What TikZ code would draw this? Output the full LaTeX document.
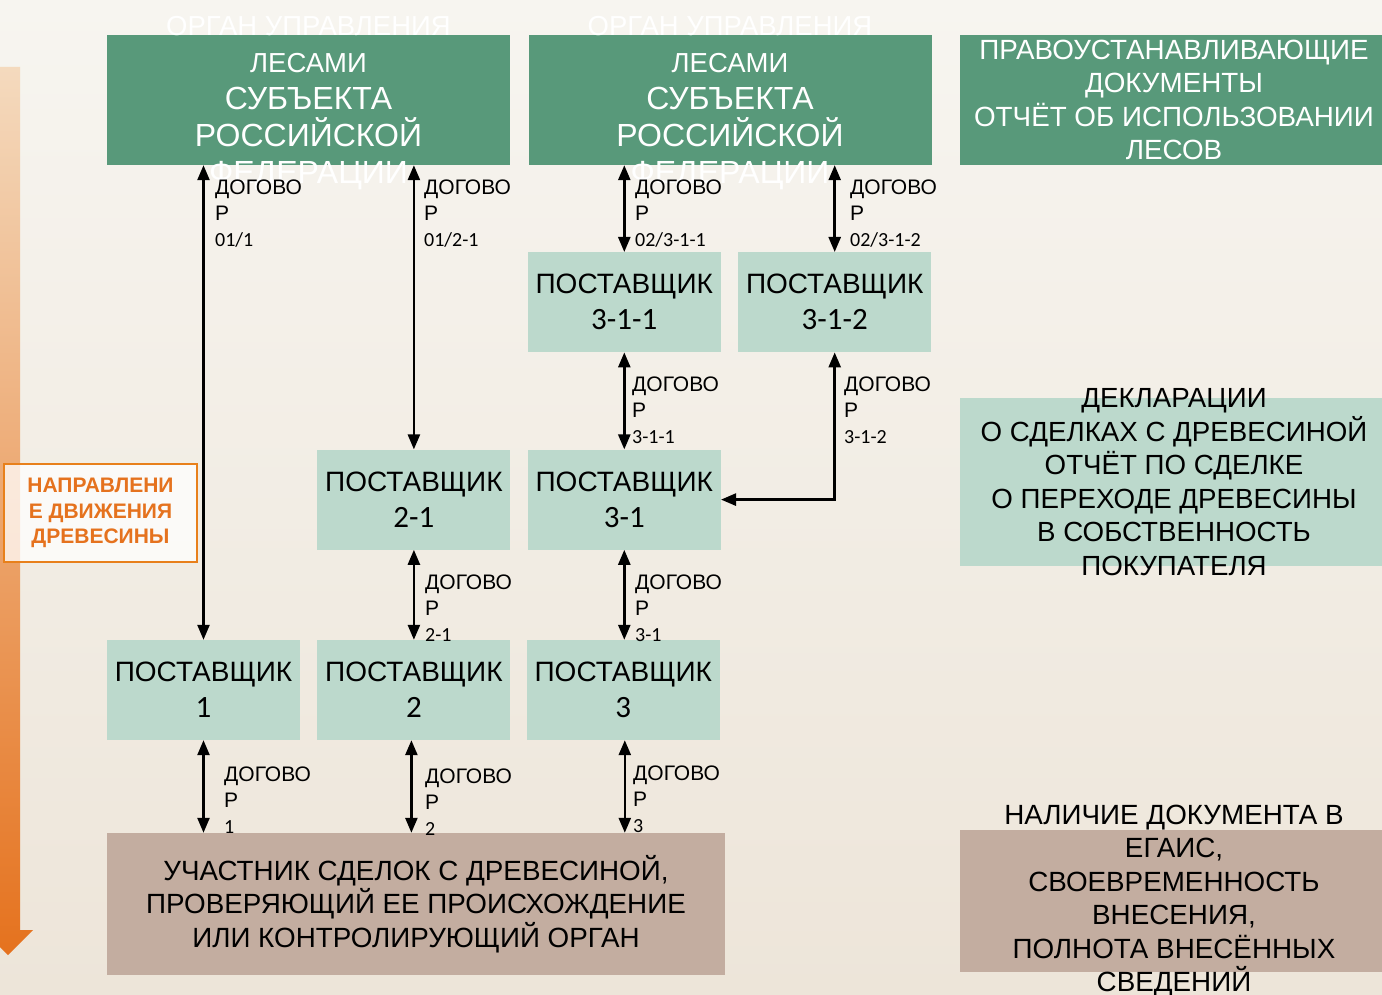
\documentclass[tikz,border=0pt]{standalone}
\usepackage{fontspec}
\setmainfont{Liberation Sans}
\newfontfamily\numfont{Carlito}
\usetikzlibrary{positioning,arrows.meta}

\definecolor{organgreen}{RGB}{88,153,122}
\definecolor{suppliergreen}{RGB}{188,217,204}
\definecolor{checkbrown}{RGB}{195,173,160}
\definecolor{flowarrow}{RGB}{229,114,30}
\definecolor{flowtop}{RGB}{244,218,190}
\definecolor{bgtop}{RGB}{247,245,240}
\definecolor{bgbottom}{RGB}{237,229,217}

\newcommand{\contractno}[1]{{\numfont\fontsize{20}{26}\selectfont #1}}
\newcommand{\smallline}[1]{{\fontsize{27.5}{36}\selectfont #1}}
\newcommand{\supplierno}[1]{{\numfont\fontsize{31}{36}\selectfont #1}}

\tikzset{
  organ/.style={fill=organgreen, minimum width=403pt, minimum height=130pt, inner sep=0pt},
  docbox/.style={minimum width=428pt, inner sep=0pt},
  supplier/.style={fill=suppliergreen, minimum width=193pt, minimum height=100pt, inner sep=0pt,
    align=center, font=\fontsize{28}{36}\selectfont},
  contract/.style={{Triangle[length=15pt,width=12pt]}-{Triangle[length=15pt,width=12pt]}, line width=2.5pt},
  dogovor/.style={anchor=north west, inner sep=0pt, align=left, font=\fontsize{21}{26}\selectfont},
}

\begin{document}
\begin{tikzpicture}[x=1pt, y=-1pt, node distance=17pt]
  \useasboundingbox (0,0) rectangle (1382,995);
  \shade[top color=bgtop, bottom color=bgbottom] (0,0) rectangle (1382,995);

  % direction of timber flow
  \shade[top color=flowtop, bottom color=flowarrow]
    (-4,67) -- (20,67) -- (20,930) -- (33,930) -- (8,955) -- (-17,930) -- (-4,930) -- cycle;
  \node[fill=white, fill opacity=0.75, text opacity=1, draw=flowarrow!90!yellow, line width=1.5pt,
        minimum width=193pt, minimum height=98pt, text=flowarrow, align=center,
        font=\bfseries\fontsize{21}{25.5}\selectfont] (dir) at (100.5,513)
        {НАПРАВЛЕНИ\\Е ДВИЖЕНИЯ\\ДРЕВЕСИНЫ};

  % forest authorities
  \node[organ, label={[text=white, align=center, yshift=-3pt, font=\fontsize{32}{37}\selectfont]center:
        \smallline{ОРГАН УПРАВЛЕНИЯ}\\\smallline{ЛЕСАМИ}\\СУБЪЕКТА\\РОССИЙСКОЙ\\ФЕДЕРАЦИИ}] (organ1) at (308.5,100) {};
  \node[organ, label={[text=white, align=center, yshift=-3pt, font=\fontsize{32}{37}\selectfont]center:
        \smallline{ОРГАН УПРАВЛЕНИЯ}\\\smallline{ЛЕСАМИ}\\СУБЪЕКТА\\РОССИЙСКОЙ\\ФЕДЕРАЦИИ}] (organ2) at (730,100) {};

  % suppliers
  \node[supplier] (p1) at (203.5,690) {ПОСТАВЩИК\\\supplierno{1}};
  \node[supplier, right=of p1] (p2) {ПОСТАВЩИК\\\supplierno{2}};
  \node[supplier, right=16pt of p2] (p3) {ПОСТАВЩИК\\\supplierno{3}};
  \node[supplier, above=90pt of p2] (p21) {ПОСТАВЩИК\\\supplierno{2-1}};
  \node[supplier, above=90pt of p3, xshift=1pt] (p31) {ПОСТАВЩИК\\\supplierno{3-1}};
  \node[supplier, above=97pt of p31] (p311) {ПОСТАВЩИК\\\supplierno{3-1-1}};
  \node[supplier, right=of p311] (p312) {ПОСТАВЩИК\\\supplierno{3-1-2}};

  % checking party
  \node[fill=checkbrown, minimum width=618pt, minimum height=142pt, inner sep=0pt, align=center,
        font=\fontsize{27.8}{33.5}\selectfont] (check) at (416,904)
        {УЧАСТНИК СДЕЛОК С ДРЕВЕСИНОЙ,\\ПРОВЕРЯЮЩИЙ ЕЕ ПРОИСХОЖДЕНИЕ\\ИЛИ КОНТРОЛИРУЮЩИЙ ОРГАН};

  % documents column
  \node[docbox, fill=organgreen, minimum height=130pt,
        label={[text=white, align=center, font=\fontsize{27.8}{33.5}\selectfont]center:
        ПРАВОУСТАНАВЛИВАЮЩИЕ\\ДОКУМЕНТЫ\\ОТЧЁТ ОБ ИСПОЛЬЗОВАНИИ\\ЛЕСОВ}] (rights) at (1174,100) {};
  \node[docbox, fill=suppliergreen, minimum height=168pt,
        label={[align=center, font=\fontsize{27.7}{33.5}\selectfont]center:
        ДЕКЛАРАЦИИ\\О СДЕЛКАХ С ДРЕВЕСИНОЙ\\ОТЧЁТ ПО СДЕЛКЕ\\О ПЕРЕХОДЕ ДРЕВЕСИНЫ\\В СОБСТВЕННОСТЬ\\ПОКУПАТЕЛЯ}] (decl) at (1174,482) {};
  \node[docbox, fill=checkbrown, minimum height=142pt,
        label={[align=center, font=\fontsize{27.8}{33.5}\selectfont]center:
        НАЛИЧИЕ ДОКУМЕНТА В\\ЕГАИС,\\СВОЕВРЕМЕННОСТЬ\\ВНЕСЕНИЯ,\\ПОЛНОТА ВНЕСЁННЫХ\\СВЕДЕНИЙ}] (egais) at (1174,901) {};

  % contracts
  \draw[contract] (organ1.south -| p1.north) -- (p1.north);
  \draw[contract] (organ1.south -| p21.north) -- (p21.north);
  \draw[contract] (organ2.south -| p311.north) -- (p311.north);
  \draw[contract] (organ2.south -| p312.north) -- (p312.north);
  \draw[contract] (p311) -- (p31);
  \draw[contract] (p312.south) |- (p31.east);
  \draw[contract] (p21) -- (p2);
  \draw[contract] (p31) -- (p31 |- p3.north);
  \draw[contract] (p1) -- (p1 |- check.north);
  \draw[contract] ([xshift=-2.5pt]p2.south) -- ([xshift=-2.5pt]p2.south |- check.north);
  \draw[contract] ([xshift=1.5pt]p3.south) -- ([xshift=1.5pt]p3.south |- check.north);

  \node[dogovor] (d011) at (215,180) {ДОГОВО\\Р\\\contractno{01/1}};
  \node[dogovor] (d0121) at (424,180) {ДОГОВО\\Р\\\contractno{01/2-1}};
  \node[dogovor] (d02311) at (635,180) {ДОГОВО\\Р\\\contractno{02/3-1-1}};
  \node[dogovor] (d02312) at (850,180) {ДОГОВО\\Р\\\contractno{02/3-1-2}};
  \node[dogovor] (d311) at (632,377) {ДОГОВО\\Р\\\contractno{3-1-1}};
  \node[dogovor] (d312) at (844,377) {ДОГОВО\\Р\\\contractno{3-1-2}};
  \node[dogovor] (d21) at (425,575) {ДОГОВО\\Р\\\contractno{2-1}};
  \node[dogovor] (d31) at (635,575) {ДОГОВО\\Р\\\contractno{3-1}};
  \node[dogovor] (d1) at (224,767) {ДОГОВО\\Р\\\contractno{1}};
  \node[dogovor] (d2) at (425,769) {ДОГОВО\\Р\\\contractno{2}};
  \node[dogovor] (d3) at (633,766) {ДОГОВО\\Р\\\contractno{3}};
\end{tikzpicture}
\end{document}
